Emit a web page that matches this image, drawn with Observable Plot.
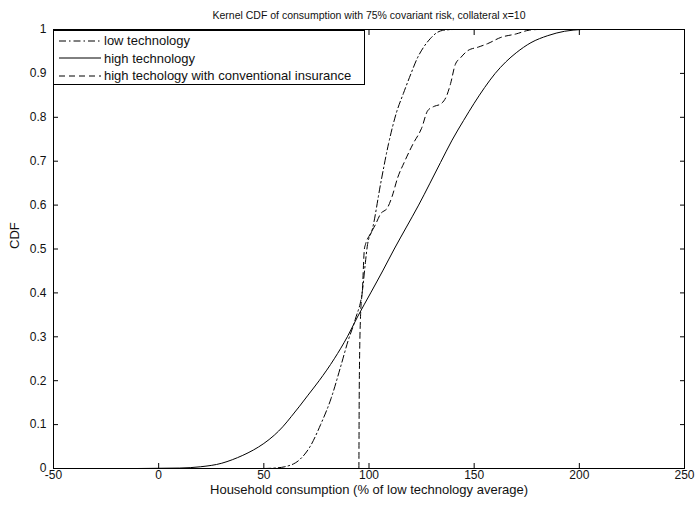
<!DOCTYPE html>
<html>
<head>
<meta charset="utf-8">
<script src="https://cdn.jsdelivr.net/npm/d3@7"></script>
<script src="https://cdn.jsdelivr.net/npm/@observablehq/plot@0.6"></script>
<style>
  body { margin: 0; background: #fff; }
  #wrap { position: relative; width: 698px; height: 507px; }
  #legend { position: absolute; left: 53px; top: 30px; width: 312px; height: 55px; border: 1px solid #000; background: #fff;
            font-family: "Liberation Sans", Arial, sans-serif; font-size: 13px; color: #111; box-sizing: border-box; }
  #legend .row { position: absolute; left: 0; height: 18px; display: flex; align-items: center; white-space: nowrap; }
  #legend svg { display: block; }
</style>
</head>
<body>
<div id="wrap"></div>
<script>
const titleText = "Kernel CDF of consumption with 75% covariant risk, collateral x=10";
const xLabel = "Household consumption (% of low technology average)";
const yLabel = "CDF";
const xTicks = [-50, 0, 50, 100, 150, 200, 250];
const yTicks = [0, 0.1, 0.2, 0.3, 0.4, 0.5, 0.6, 0.7, 0.8, 0.9, 1];

const seriesNames = ["low technology", "high technology", "high techology with conventional insurance"];

// low technology
const lowX = [50, 55, 60, 67, 72, 77, 82, 86.4, 90, 93.5, 97, 98.3, 99.3, 101.6, 105.5, 109.3, 113, 116.4, 120, 123, 126, 129.3, 132, 135, 140];
const lowY = [0, 0.001, 0.004, 0.02, 0.05, 0.1, 0.16, 0.23, 0.29, 0.34, 0.41, 0.47, 0.51, 0.545, 0.648, 0.74, 0.81, 0.855, 0.9, 0.935, 0.96, 0.98, 0.992, 0.998, 1];

// high technology
const highX = [-10, 0, 10, 20, 30, 35, 40, 45, 50, 55, 59, 63, 67, 71, 76.3, 83.5, 89.7, 94.5, 100.8, 106.5, 112, 117.8, 123.6, 129, 134, 139.5, 145, 150, 155, 160, 165, 170, 177, 185, 193, 201];
const highY = [0, 0.0005, 0.001, 0.004, 0.012, 0.02, 0.03, 0.042, 0.057, 0.076, 0.095, 0.118, 0.142, 0.167, 0.2, 0.25, 0.3, 0.345, 0.4, 0.45, 0.5, 0.55, 0.6, 0.65, 0.697, 0.748, 0.793, 0.832, 0.868, 0.9, 0.926, 0.947, 0.97, 0.986, 0.996, 1];

// high technology with conventional insurance
const insX = [95.2, 95.4, 96, 96.9, 97.8, 98.3, 100.7, 103, 105.5, 108.8, 111, 113.6, 117, 121, 125, 127.9, 131, 134, 137, 138.8, 141, 143.6, 147, 152, 156.5, 162.7, 170, 175.6, 180];
const insY = [0, 0.2, 0.35, 0.41, 0.5, 0.51, 0.535, 0.555, 0.58, 0.594, 0.62, 0.662, 0.7, 0.74, 0.775, 0.815, 0.825, 0.83, 0.85, 0.877, 0.92, 0.936, 0.952, 0.96, 0.968, 0.982, 0.99, 0.998, 1];

const toRows = (xs, ys) => xs.map((x, i) => ({x, y: ys[i]}));
const low = toRows(lowX, lowY);
const high = toRows(highX, highY);
const ins = toRows(insX, insY);

const dashes = ["7,3,1.5,3", null, "6,4"];
const font = "Liberation Sans, Arial, sans-serif";

const chart = Plot.plot({
  width: 698,
  height: 507,
  marginLeft: 53,
  marginRight: 14,
  marginTop: 29,
  marginBottom: 39,
  style: {fontFamily: font, fontSize: "12px", background: "#fff", color: "#111"},
  x: {domain: [-50, 250]},
  y: {domain: [0, 1]},
  marks: [
    Plot.frame({stroke: "#000", strokeWidth: 1}),
    Plot.axisX(xTicks, {anchor: "bottom", tickSize: -5, tickPadding: 7, label: null, tickFormat: d => String(d), fill: "#111", stroke: "#000"}),
    Plot.axisX(xTicks, {anchor: "top", tickSize: -5, label: null, tickFormat: () => "", stroke: "#000"}),
    Plot.axisY(yTicks, {anchor: "left", tickSize: -5, tickPadding: 12, label: null, tickFormat: d => String(d), fill: "#111", stroke: "#000"}),
    Plot.axisY(yTicks, {anchor: "right", tickSize: -5, label: null, tickFormat: () => "", stroke: "#000"}),
    Plot.line(high, {x: "x", y: "y", stroke: "#000", strokeWidth: 1, curve: "monotone-x"}),
    Plot.line(low, {x: "x", y: "y", stroke: "#000", strokeWidth: 1, strokeDasharray: dashes[0], curve: "monotone-x"}),
    Plot.line(ins, {x: "x", y: "y", stroke: "#000", strokeWidth: 1, strokeDasharray: dashes[2], curve: "monotone-x"}),
    Plot.text([titleText], {text: d => d, frameAnchor: "top", dy: -18, fontSize: 10.5, fill: "#111"}),
    Plot.text([xLabel], {text: d => d, frameAnchor: "bottom", dy: 25, fontSize: 13, fill: "#111"}),
    Plot.text([yLabel], {text: d => d, frameAnchor: "left", dx: -39, rotate: -90, fontSize: 13, fill: "#111"})
  ]
});

const wrap = document.getElementById("wrap");
wrap.appendChild(chart);

// legend
const legend = document.createElement("div");
legend.id = "legend";
seriesNames.forEach((name, i) => {
  const row = document.createElement("div");
  row.className = "row";
  row.style.top = (0.5 + i * 17.5) + "px";
  const dash = dashes[i] ? `stroke-dasharray="${dashes[i]}"` : "";
  row.innerHTML = `<svg width="50" height="18"><line x1="5" x2="47" y1="9" y2="9" stroke="#000" stroke-width="1" ${dash}/></svg><span>${name}</span>`;
  legend.appendChild(row);
});
wrap.appendChild(legend);
</script>
</body>
</html>
